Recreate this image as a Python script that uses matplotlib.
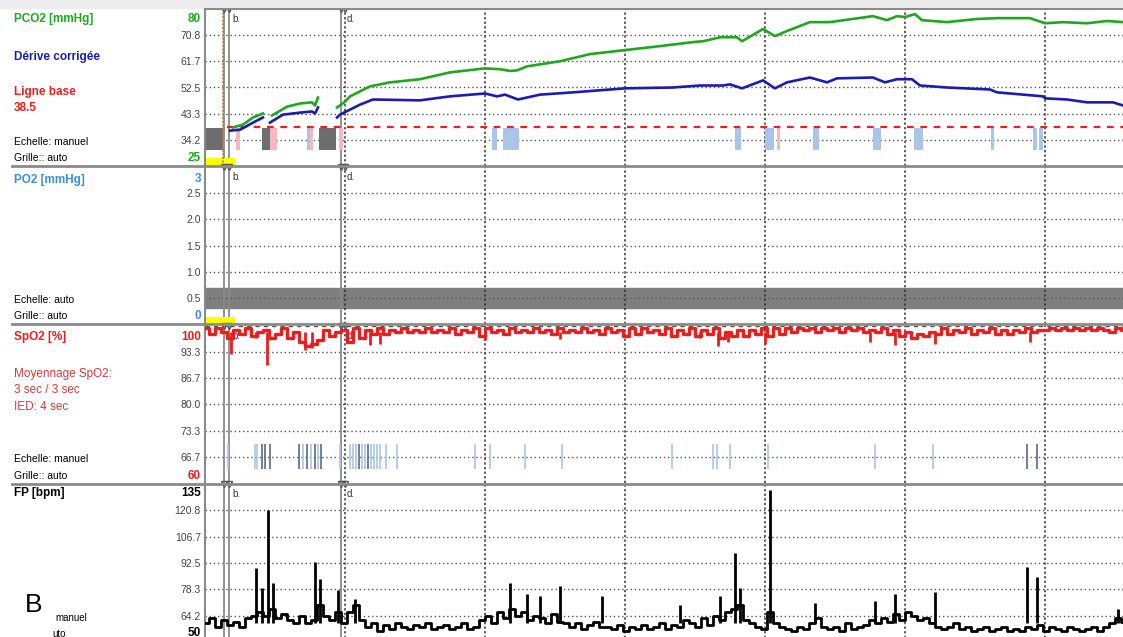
import matplotlib
matplotlib.use("Agg")
import matplotlib.pyplot as plt
from matplotlib.lines import Line2D
import numpy as np

plt.rcParams['font.family'] = ['Liberation Sans', 'DejaVu Sans']

W, H = 1123, 637
T_END = (W - 205) / 14.0   # minutes visible (grid every 10 min)

# ---------------- PCO2 panel data (mmHg) ----------------
pco2_t = [
    [2.0, 2.71, 3.43, 4.14],
    [4.79, 5.86, 6.79, 7.64, 7.86, 8.07],
    [9.43, 10, 10.36, 11.79, 13.21, 15.36, 17.5, 20, 21.07, 21.79, 22.29, 23, 25.36, 27.5,
     30, 32.5, 34.86, 35.57, 36.79, 37.5, 38, 38.36, 39.86, 40.71, 41.57, 43.21, 44.64,
     47.71, 48.71, 49.43, 50, 50.71, 51.21, 53, 55.14, 56.57, 58.93, 60, 61.29, 63, 64.43, 65.57],
]
pco2 = [
    [38.5, 39.5, 42.0, 43.4],
    [42.7, 45.8, 46.9, 47.3, 46.2, 49.0],
    [45.5, 47.5, 49.4, 52.9, 54.3, 55.4, 57.8, 59.2, 58.9, 58.3, 58.5, 59.9, 61.7, 64.2,
     65.6, 67, 68.4, 68.7, 70.1, 70.1, 70.1, 68.7, 73, 70.5, 72.3, 75.4, 75.4,
     77.5, 76.1, 77.5, 77.2, 78.2, 76.1, 75.4, 76.5, 76.8, 76.8, 75, 75.4, 75, 75.8, 75.4],
]
drift_t = [
    [1.79, 2.5, 3.43, 4.14],
    [4.64, 5.57, 6.79, 7.64, 7.86, 8.07],
    [9.43, 9.64, 11.07, 12, 15.36, 17.5, 20, 20.86, 21.43, 22.36, 23.93, 26.29, 30, 33.43,
     35.36, 37, 37.5, 38.36, 39.86, 40.71, 41.57, 43.21, 44.43, 45.14, 47.71, 48.57, 49.43,
     50.5, 51.07, 53, 56.07, 56.57, 59.86, 60, 61.57, 63, 64.86, 65.57],
]
drift = [
    [37.4, 37.7, 40.2, 42.0],
    [40.2, 43.0, 43.7, 44.1, 43.4, 45.5],
    [42, 43, 46.5, 48.3, 48, 49.4, 50.4, 49.4, 50, 48.3, 50, 50.8, 52.2, 52.5,
     53.2, 53.2, 53.6, 52.2, 55, 52.2, 54.3, 56, 54.3, 55.7, 56, 54.3, 55.4,
     55.4, 53.2, 52.5, 51.8, 50.8, 49.4, 48.7, 48.3, 47.3, 47.3, 46.2],
]
baseline_pco2 = 38.5

# artefact / event blocks (start, end) in minutes
blocks_gray = [(0.07, 1.29), (4.07, 4.64), (8.14, 9.36)]
blocks_pink = [(2.21, 2.5), (4.64, 5.14), (7.5, 7.71), (9.57, 9.86), (40.86, 41.07)]
blocks_blue = [(7.29, 7.5), (20.5, 20.86), (21.29, 22.43), (37.86, 38.29), (40, 40.64),
               (43.43, 43.86), (47.71, 48.29), (50.64, 51.29), (56.14, 56.36),
               (59.14, 59.43), (59.57, 59.86)]

# ---------------- PO2 panel ----------------
po2_band = (0.31, 0.69)

# ---------------- SpO2 (%) ----------------
spo2 = [99.5, 98, 99.5, 98.5, 97,
        99, 98, 99.5, 97.5, 98.5, 99, 97, 98, 99.5, 97, 98.5, 96, 95, 95.5, 96.5, 99, 97.5, 98.5, 99,
        96, 99.5, 97, 99, 98, 99.5, 98, 99, 98.5, 99.5, 98.5, 99, 98.5, 99.5, 98.5, 99, 98.5,
        99.5, 98, 99, 98.5, 99.5, 97.5, 99.5, 98.5, 99, 98, 99.5, 98.5, 99, 98.5, 99.5, 98.5,
        99, 98, 99.5, 98.5, 99, 98.5, 99.5, 98.5, 99, 98, 99.5, 98.5, 99, 97.5, 99.5, 98, 99.5,
        98.5, 99, 98, 99.5, 97.5, 99, 98, 99.5, 97.5, 99, 98, 99.5, 97, 98.5, 97.5, 99,
        97.5, 99, 98, 99.5, 97.5, 99.5, 98, 99.5, 98.5, 99.5, 99, 99.5, 98.5, 99.5, 99, 99.5,
        98.5, 99.5, 99, 99.5, 98.5, 99, 98.5, 99.5, 98, 99, 97.5, 98.5, 97, 98, 97.5, 98.5,
        98, 99.5, 98, 99, 98.5, 99.5, 98, 99, 98.5, 99.5, 98, 99, 98, 99, 98.5, 99.5, 98.5,
        99, 99, 99.5, 99, 99.5, 99, 99.5, 99, 99.5, 99, 99.5, 99, 98.5, 99.5, 99]
spo2_dip_t = [1.86, 3.64, 4.43, 7.14, 7.64, 11.79, 12.5, 20, 25.36, 35.36, 36.64, 37.36,
              40, 47.5, 49.29, 52.14, 58.93]
spo2_dip = [92.8, 97, 90, 94, 94.5, 95.1, 95.4, 96.5, 96.7, 97, 94.9, 95.8,
            95.4, 96, 95.2, 95.5, 96]
spo2_evt_dark = [4.07, 4.29, 4.64, 6.71, 7.29, 7.86, 8.29, 11.0, 11.64, 58.71, 59.43]
spo2_evt_light = [1.64, 3.57, 3.71, 7.0, 7.57, 8.07, 9.64, 10.36, 10.57, 10.79, 11.21,
                  11.43, 11.86, 12.07, 12.29, 12.5, 12.93, 13.71, 19.29, 20.36, 22.86,
                  25.5, 33.36, 36.29, 36.57, 37.5, 40.21, 47.86, 52.0]

# ---------------- FP (bpm) ----------------
fp = [60, 63, 58, 62, 59,
      61, 58, 63, 64, 66, 64, 68, 63, 65, 62, 60, 64, 60, 62, 70, 64, 62, 66, 60,
      66, 70, 62, 58, 60, 56, 59, 57, 60, 58, 57, 59, 58, 60, 57, 58, 59, 57, 58, 60, 57, 58,
      62, 64, 60, 66, 63, 68, 64, 66, 62, 64,
      63, 60, 65, 61, 60, 58, 60, 57, 59, 61, 58,
      58, 57, 59, 56, 58, 57, 59, 57, 58, 60, 57, 59, 58, 62, 60, 58, 63, 59, 64, 62, 66, 68, 70,
      62, 60, 58, 57, 66, 60, 58, 57, 56, 58, 57, 60, 63, 58, 57, 58, 56, 60, 57, 58,
      59, 62, 60, 63, 61, 65, 62, 66, 64, 62, 63, 60, 58, 57, 58, 60, 57, 58, 56, 57,
      58, 56, 57, 58, 56, 57, 56, 58, 57, 59, 56, 58, 57, 56, 58, 57, 56, 57, 58, 56,
      58, 60, 63, 61]
fp_spike_t = [3.64, 4.07, 4.5, 4.86, 7.86, 8.21, 9.5, 10.71, 21.79, 23.0, 23.93, 25.36,
              28.36, 33.93, 36.79, 37.86, 38.21, 40.36, 43.57, 47.86, 49.29, 52.14,
              58.71, 59.43, 65.21]
fp_spike = [90, 79, 121, 82, 93, 84, 78, 73, 82, 76, 75, 80,
            75, 70, 75, 98, 79, 132, 71, 72, 76, 77,
            90.6, 84.7, 68]

# event markers (minutes)
marker_b = [1.36, 1.71]
marker_d = 9.71
orange_line = 1.26

GREEN = '#1fa81f'
BLUE = '#1c1cb0'
RED = '#ee1c1c'
LBLUE = '#3a8ee0'
GRID = '#555555'


def px(x, y):
    return x / W, 1 - y / H


fig = plt.figure(figsize=(W / 100, H / 100), dpi=100)
fig.patch.set_facecolor('white')

# top grey strip
fig.patches.append(plt.Rectangle((0, 1 - 8 / H), 1, 8 / H, transform=fig.transFigure,
                                 color='#ececec', zorder=0))


def make_axes(y0, y1, ylim, mid_ticks, fmt):
    ax = fig.add_axes([205 / W, 1 - y1 / H, (W - 205) / W, (y1 - y0) / H])
    ax.set_xlim(0, T_END)
    ax.set_ylim(*ylim)
    for s in ['top', 'right', 'bottom']:
        ax.spines[s].set_visible(False)
    ax.spines['left'].set_color('#8a8a8a')
    ax.spines['left'].set_linewidth(1.5)
    ax.set_xticks([])
    ax.set_yticks(mid_ticks)
    ax.set_yticklabels([fmt.format(v) for v in mid_ticks], fontsize=7.5, color='#444444')
    ax.tick_params(axis='y', length=0, pad=3)
    for v in mid_ticks:
        ax.axhline(v, color=GRID, lw=1, ls=(0, (1, 2)), zorder=1)
    for g in range(10, 70, 10):
        ax.axvline(g, color='#333333', lw=1.1, ls=(0, (1.5, 1.5)), zorder=1)
    # event markers
    for m in marker_b:
        ax.axvline(m, color='#8a8a8a', lw=1.3, zorder=2)
    ax.axvline(marker_d, color='#8a8a8a', lw=1.3, zorder=2)
    ytop = ylim[1]
    for m in marker_b + [marker_d, 10]:
        ax.plot([m], [ytop], marker='v', mfc='none', mec='#555555', ms=4.5,
                clip_on=False, zorder=6)
    ax.text(1.93, ytop - (ylim[1] - ylim[0]) * 0.03, 'b.', fontsize=7, va='top', color='#333333')
    ax.text(10.14, ytop - (ylim[1] - ylim[0]) * 0.03, 'd.', fontsize=7, va='top', color='#333333')
    return ax


# ---- panel 1: PCO2 ----
ax1 = make_axes(9, 166, (25, 80), [34.2, 43.3, 52.5, 61.7, 70.8], '{:.1f}')
for t0, t1 in blocks_gray:
    ax1.bar(t0, 7.9, width=t1 - t0, bottom=30.5, align='edge', color='#6e6e6e', zorder=2)
for t0, t1 in blocks_pink:
    ax1.bar(t0, 7.9, width=t1 - t0, bottom=30.5, align='edge', color='#f4b8bf', zorder=2)
for t0, t1 in blocks_blue:
    ax1.bar(t0, 7.9, width=t1 - t0, bottom=30.5, align='edge', color='#a9c6ea', zorder=2)
ax1.bar(0.07, 2.9, width=2.1, bottom=25, align='edge', color='#ffff00', zorder=3, clip_on=False)
ax1.plot([1.6, T_END], [baseline_pco2, baseline_pco2], color=RED, lw=1.6,
         ls=(0, (3, 3)), zorder=3)
ax1.axvline(orange_line, color='#c8782a', lw=1.3, ls=(0, (1, 1)), zorder=3)
for tt, vv in zip(pco2_t, pco2):
    ax1.plot(tt, vv, color=GREEN, lw=1.9, zorder=4)
for tt, vv in zip(drift_t, drift):
    ax1.plot(tt, vv, color=BLUE, lw=1.9, zorder=4)

# ---- panel 2: PO2 ----
ax2 = make_axes(167, 324, (0, 3), [0.5, 1.0, 1.5, 2.0, 2.5], '{:.1f}')
ax2.axhspan(po2_band[0], po2_band[1], color='#7f7f7f', zorder=0.5)
ax2.bar(0.07, 0.14, width=2.1, bottom=0, align='edge', color='#ffff00', zorder=3)

# ---- panel 3: SpO2 ----
ax3 = make_axes(326, 483, (60, 100), [66.7, 73.3, 80.0, 86.7, 93.3], '{:.1f}')
ax3.axhline(99.9, color='#555555', lw=1, ls=(0, (3, 3)), zorder=1)
spo2_t = np.linspace(0.07, 65.64, len(spo2))
ax3.plot(spo2_t, spo2, color=RED, lw=2.4, zorder=4, drawstyle='steps-mid')
ax3.vlines(spo2_dip_t, 98.5, spo2_dip, color=RED, lw=2, zorder=4)
ax3.vlines(spo2_evt_light, 63.5, 70, color='#a9c6ea', lw=1.2, zorder=3)
ax3.vlines(spo2_evt_dark, 63.5, 70, color='#5c6b80', lw=1.2, zorder=3)

# ---- panel 4: FP ----
ax4 = make_axes(484, 642, (50, 135), [64.2, 78.3, 92.5, 106.7, 120.8], '{:.1f}')
fp_t = np.linspace(0.07, 65.64, len(fp))
ax4.plot(fp_t, fp, color='black', lw=2, zorder=4, drawstyle='steps-mid')
ax4.vlines(fp_spike_t, 60, fp_spike, color='black', lw=2, zorder=4)

# panel separators
for y in [166, 324.5, 483.5]:
    fig.add_artist(Line2D([12 / W, 1], [1 - y / H] * 2, color='#8a8a8a', lw=2))
fig.add_artist(Line2D([205 / W, 1], [1 - 9 / H] * 2, color='#8a8a8a', lw=1.5))

# left-side labels
def lab(x, y, s, color='black', bold=False, size=8.5, ha='left'):
    fig.text(*px(x, y), s, color=color, fontsize=size, ha=ha, va='center',
             fontweight='bold' if bold else 'normal')

lab(14, 19, 'PCO2 [mmHg]', GREEN, True)
lab(14, 57, 'Dérive corrigée', BLUE, True)
lab(14, 92, 'Ligne base', RED, True)
lab(14, 108, '38.5', RED, True)
lab(14, 142, 'Echelle: manuel', 'black', size=7.5)
lab(14, 158, 'Grille:: auto', 'black', size=7.5)
lab(201, 19, '80', GREEN, True, ha='right')
lab(201, 158, '25', GREEN, True, ha='right')

lab(14, 180, 'PO2 [mmHg]', LBLUE, True)
lab(14, 300, 'Echelle: auto', 'black', size=7.5)
lab(14, 316, 'Grille:: auto', 'black', size=7.5)
lab(201, 179, '3', LBLUE, True, ha='right')
lab(201, 316, '0', LBLUE, True, ha='right')

lab(14, 337, 'SpO2 [%]', RED, True)
lab(14, 374, 'Moyennage SpO2:', '#d83a3a', size=8.5)
lab(14, 390, '3 sec / 3 sec', '#d83a3a', size=8.5)
lab(14, 407, 'IED: 4 sec', '#d83a3a', size=8.5)
lab(14, 459, 'Echelle: manuel', 'black', size=7.5)
lab(14, 476, 'Grille:: auto', 'black', size=7.5)
lab(201, 337, '100', RED, True, ha='right')
lab(201, 476, '60', RED, True, ha='right')

lab(14, 493, 'FP [bpm]', 'black', True)
lab(201, 493, '135', 'black', True, ha='right')
lab(201, 633, '50', 'black', True, ha='right')
lab(25, 605, 'B', 'black', size=19)
lab(55, 618, 'manuel', 'black', size=7)
lab(52, 634, 'uto', 'black', size=7)

fig.savefig('out.png', dpi=100)
